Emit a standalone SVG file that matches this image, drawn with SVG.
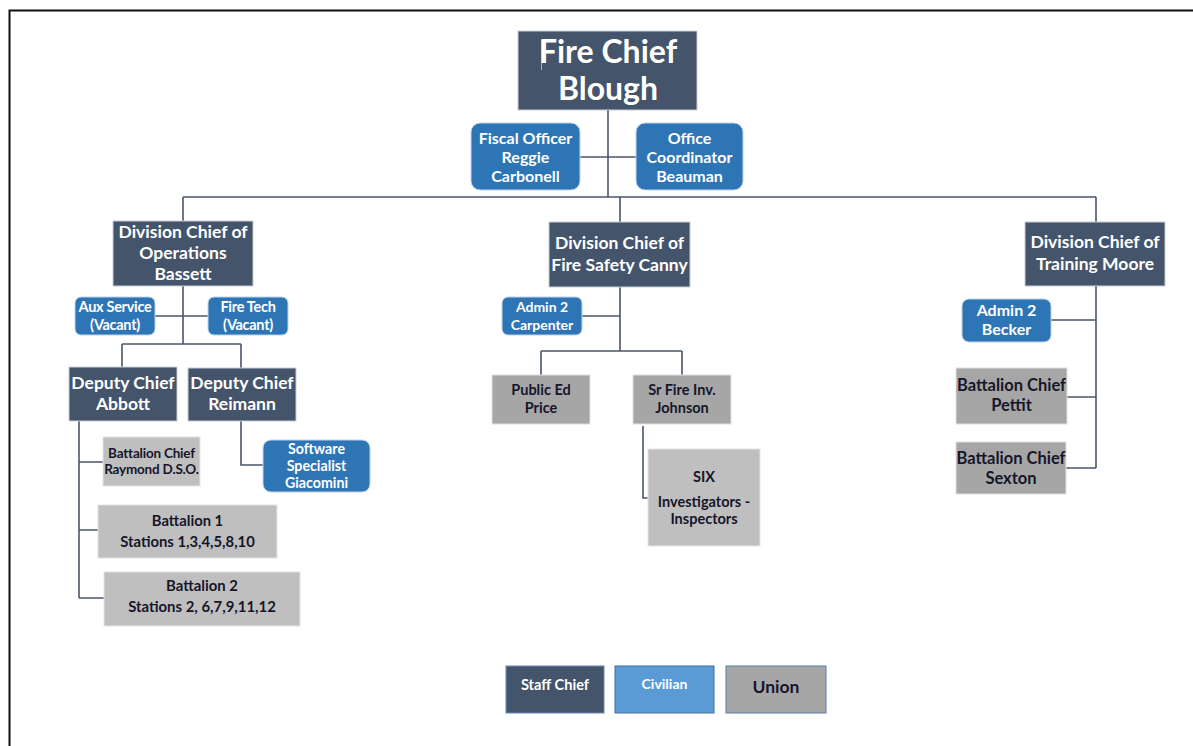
<svg xmlns="http://www.w3.org/2000/svg" width="1193" height="746" viewBox="0 0 1193 746">
<style>
text{font-family:Lato,"Open Sans","Liberation Sans",sans-serif;font-weight:bold;text-anchor:middle}
.chief{fill:#44546A;stroke:#C9CED6;stroke-width:1}
.civ{fill:#2E75B6;stroke:#BFD3EA;stroke-width:1}
.union{fill:#A6A6A6;stroke:#E0E0E0;stroke-width:1}
.light{fill:#BFBFBF;stroke:#E4E4E4;stroke-width:1}
.w{fill:#FFFFFF}
.d{fill:#16162A}
.ln{fill:none;stroke:#4A5568;stroke-width:1.6}
</style>
<rect x="0" y="0" width="1193" height="746" fill="#FFFFFF"/>
<path d="M9.5 746 V10.5 H1193" fill="none" stroke="#111" stroke-width="2"/>

<g id="connectors">
<path class="ln" d="M608 110 V197"/>
<path class="ln" d="M580 157 H636"/>
<path class="ln" d="M183 197 H1096"/>
<path class="ln" d="M183 197 V222 M620 197 V223 M1096 197 V222"/>
<path class="ln" d="M183 286 V344 M155 316 H208 M122 344 H241 M122 344 V368 M241 344 V368"/>
<path class="ln" d="M79 421 V598 M79 462 H103 M79 530 H99 M79 598 H104"/>
<path class="ln" d="M241 421 V465 H263"/>
<path class="ln" d="M620 287 V351 M582 316 H620 M541 351 H682 M541 351 V375 M682 351 V375"/>
<path class="ln" d="M643 426 V498 H648"/>
<path class="ln" d="M1096 286 V468 M1051 320 H1096 M1067 397 H1096 M1066 468 H1096"/>
</g>

<g id="fire-chief">
<rect class="chief" x="518" y="31" width="179" height="79"/>
<line x1="541.5" y1="40" x2="541.5" y2="70" stroke="#C8A97E" stroke-width="1"/>
<text class="w" x="608" y="63" font-size="32">Fire Chief</text>
<text class="w" x="608" y="100" font-size="32">Blough</text>
</g>

<g id="fiscal-officer">
<rect class="civ" x="471" y="123" width="109" height="67" rx="9"/>
<text class="w" x="525.5" y="143.5" font-size="16">Fiscal Officer</text>
<text class="w" x="525.5" y="162.5" font-size="16">Reggie</text>
<text class="w" x="525.5" y="181.5" font-size="16">Carbonell</text>
</g>

<g id="office-coordinator">
<rect class="civ" x="636" y="123" width="107" height="67" rx="9"/>
<text class="w" x="689.5" y="143.5" font-size="16">Office</text>
<text class="w" x="689.5" y="162.5" font-size="16">Coordinator</text>
<text class="w" x="689.5" y="181.5" font-size="16">Beauman</text>
</g>

<g id="div-ops">
<rect class="chief" x="113" y="221" width="140" height="65"/>
<text class="w" x="183" y="238" font-size="17.5">Division Chief of</text>
<text class="w" x="183" y="259" font-size="17.5">Operations</text>
<text class="w" x="183" y="280" font-size="17.5">Bassett</text>
</g>

<g id="aux-service">
<rect class="civ" x="75" y="297" width="80" height="38" rx="6"/>
<text class="w" x="115" y="312" font-size="14.5" letter-spacing="-0.3">Aux Service</text>
<text class="w" x="115" y="330" font-size="14.5" letter-spacing="-0.3">(Vacant)</text>
</g>

<g id="fire-tech">
<rect class="civ" x="208" y="297" width="80" height="38" rx="6"/>
<text class="w" x="248" y="312" font-size="14.5" letter-spacing="-0.3">Fire Tech</text>
<text class="w" x="248" y="330" font-size="14.5" letter-spacing="-0.3">(Vacant)</text>
</g>

<g id="deputy-abbott">
<rect class="chief" x="69" y="367" width="108" height="54"/>
<text class="w" x="123" y="389" font-size="17.5">Deputy Chief</text>
<text class="w" x="123" y="410" font-size="17.5">Abbott</text>
</g>

<g id="deputy-reimann">
<rect class="chief" x="188" y="368" width="108" height="53"/>
<text class="w" x="242" y="389" font-size="17.5">Deputy Chief</text>
<text class="w" x="242" y="410" font-size="17.5">Reimann</text>
</g>

<g id="bc-raymond">
<rect class="light" x="103" y="437" width="97" height="49"/>
<text class="d" x="151.5" y="457.5" font-size="13.5" letter-spacing="-0.2">Battalion Chief</text>
<text class="d" x="151.5" y="473.5" font-size="13.5" letter-spacing="-0.2">Raymond D.S.O.</text>
</g>

<g id="software-specialist">
<rect class="civ" x="263" y="440" width="107" height="52" rx="8"/>
<text class="w" x="316.5" y="454" font-size="14.2">Software</text>
<text class="w" x="316.5" y="471" font-size="14.2">Specialist</text>
<text class="w" x="316.5" y="488" font-size="14.2">Giacomini</text>
</g>

<g id="battalion-1">
<rect class="light" x="98" y="505" width="179" height="53"/>
<text class="d" x="187.5" y="526" font-size="14.8">Battalion 1</text>
<text class="d" x="187.5" y="547" font-size="14.8">Stations 1,3,4,5,8,10</text>
</g>

<g id="battalion-2">
<rect class="light" x="104" y="572" width="196" height="54"/>
<text class="d" x="202" y="591" font-size="14.9">Battalion 2</text>
<text class="d" x="202" y="612" font-size="14.9">Stations 2, 6,7,9,11,12</text>
</g>

<g id="div-fire-safety">
<rect class="chief" x="549" y="222" width="141" height="65"/>
<text class="w" x="619.5" y="249" font-size="17.5">Division Chief of</text>
<text class="w" x="619.5" y="271" font-size="17.5">Fire Safety Canny</text>
</g>

<g id="admin-carpenter">
<rect class="civ" x="502" y="297" width="80" height="38" rx="6"/>
<text class="w" x="542" y="312" font-size="14">Admin 2</text>
<text class="w" x="542" y="330" font-size="14">Carpenter</text>
</g>

<g id="public-ed">
<rect class="union" x="492" y="375" width="98" height="49"/>
<text class="d" x="541" y="395" font-size="14.5">Public Ed</text>
<text class="d" x="541" y="413" font-size="14.5">Price</text>
</g>

<g id="sr-fire-inv">
<rect class="union" x="633" y="375" width="98" height="49"/>
<text class="d" x="682" y="395" font-size="14.5">Sr Fire Inv.</text>
<text class="d" x="682" y="413" font-size="14.5">Johnson</text>
</g>

<g id="six-investigators">
<rect class="light" x="648" y="449" width="112" height="97"/>
<text class="d" x="704" y="482" font-size="14.5">SIX</text>
<text class="d" x="704" y="507" font-size="14.5">Investigators -</text>
<text class="d" x="704" y="524" font-size="14.5">Inspectors</text>
</g>

<g id="div-training">
<rect class="chief" x="1025" y="222" width="140" height="64"/>
<text class="w" x="1095" y="248" font-size="17.5">Division Chief of</text>
<text class="w" x="1095" y="270" font-size="17.5">Training Moore</text>
</g>

<g id="admin-becker">
<rect class="civ" x="962" y="299" width="89" height="43" rx="7"/>
<text class="w" x="1006.5" y="316" font-size="16">Admin 2</text>
<text class="w" x="1006.5" y="335" font-size="16">Becker</text>
</g>

<g id="bc-pettit">
<rect class="union" x="956" y="368" width="111" height="56"/>
<text class="d" x="1011.5" y="391" font-size="16.5">Battalion Chief</text>
<text class="d" x="1011.5" y="411" font-size="16.5">Pettit</text>
</g>

<g id="bc-sexton">
<rect class="union" x="956" y="442" width="110" height="52"/>
<text class="d" x="1011" y="464" font-size="16.5">Battalion Chief</text>
<text class="d" x="1011" y="484" font-size="16.5">Sexton</text>
</g>

<g id="legend">
<rect x="506" y="666" width="98" height="47" fill="#44546A" stroke="#6A8AB5" stroke-width="1"/>
<text class="w" x="555" y="690" font-size="14.6">Staff Chief</text>
<rect x="615" y="666" width="99" height="47" fill="#5B9BD5" stroke="#41719C" stroke-width="1"/>
<text class="w" x="664.5" y="689" font-size="14">Civilian</text>
<rect x="726" y="666" width="100" height="47" fill="#A6A6A6" stroke="#5B7FAE" stroke-width="1"/>
<text class="d" x="776" y="693" font-size="17.5">Union</text>
</g>
</svg>
